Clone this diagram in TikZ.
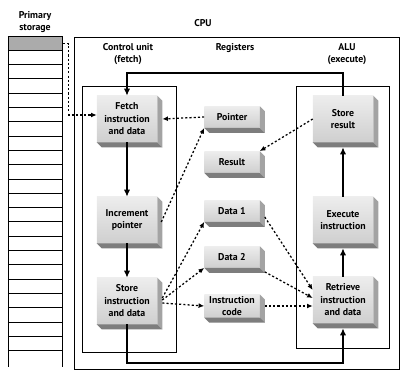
\documentclass[tikz,border=0pt]{standalone}
\usepackage{fontspec}
\setmainfont{PT Sans}
\usetikzlibrary{arrows.meta,calc}
\definecolor{FaceLight}{HTML}{EDEDED}
\definecolor{Face}{HTML}{CFCFCF}
\definecolor{Side}{HTML}{A3A3A3}
\definecolor{Base}{HTML}{7D7D7D}
\definecolor{Slot}{HTML}{ABABAB}

\begin{document}
\begin{tikzpicture}[x=0.025cm,y=-0.025cm,
  font=\fontsize{7}{8.9}\selectfont\bfseries,
  unit/.style={top color=FaceLight,bottom color=Face,minimum width=1.5cm,
    minimum height=1.15cm,align=center,inner sep=1pt},
  reg/.style={unit,minimum width=1.375cm,minimum height=0.53cm},
  frame/.style={draw,line width=0.7pt},
  flow/.style={-{Latex[length=5pt,width=4.5pt]},line width=1.6pt},
  data/.style={-{Latex[length=4pt,width=3.5pt]},line width=0.9pt,
    dash pattern=on 1.5pt off 1.5pt}]
  \useasboundingbox (0,0) rectangle (404,377);

  % primary storage
  \foreach \k in {0,...,22}
    \draw[line width=0.6pt] (8,{36+14.3*\k}) -- (62,{36+14.3*\k});
  \draw[line width=0.6pt] (8,36) -- (8,367) (62,36) -- (62,367);
  \node[draw,line width=0.6pt,fill=Slot,minimum width=1.35cm,
    minimum height=0.3575cm,inner sep=0pt,anchor=north west] (slot) at (8,36) {};

  \draw[frame] (74,37) rectangle (399,369);
  \draw[frame] (82,86) rectangle (176,352);
  \draw[frame] (296,86) rectangle (389,348);

  \node[align=center] (prim) at (35,22) {Primary\\storage};
  \node (cpu) at (203,23) {CPU};
  \node[align=center] (ctl) at (128,54) {Control unit\\(fetch)};
  \node (regs) at (235,48) {Registers};
  \node[align=center] (alu) at (347,54) {ALU\\(execute)};

  \node[unit] (fetch) at (127,119) {Fetch\\instruction\\and data};
  \node[unit] (incr) at (127,220) {Increment\\pointer};
  \node[unit] (store) at (127,301) {Store\\instruction\\and data};
  \node[reg] (ptr) at (232,117) {Pointer};
  \node[reg] (res) at (232,162) {Result};
  \node[reg] (d1) at (232,211) {Data 1};
  \node[reg] (d2) at (232,257) {Data 2};
  \node[reg] (icode) at (232,306) {Instruction\\code};
  \node[unit] (sres) at (343,119) {Store\\result};
  \node[unit] (exec) at (343,220) {Execute\\instruction};
  \node[unit] (retr) at (343,300) {Retrieve\\instruction\\and data};

  \foreach \n in {fetch,incr,store,ptr,res,d1,d2,icode,sres,exec,retr} {
    \fill[Side] (\n.north east) -- ++(5,5) -- ($(\n.south east)+(5,5)$)
      -- (\n.south east) -- cycle;
    \fill[Base] (\n.south west) -- ++(5,5) -- ($(\n.south east)+(5,5)$)
      -- (\n.south east) -- cycle;
  }

  \coordinate (looptop) at (127,73);
  \coordinate (loopbot) at (127,363);
  \draw[flow] (sres.north) |- (looptop) -- (fetch.north);
  \draw[flow] (fetch.south) -- (incr.north);
  \draw[flow] (incr.south) -- (store.north);
  \draw[flow] (store.south) -- (loopbot) -| ($(retr.south)+(0,5)$);
  \draw[flow] (retr.north) -- ($(exec.south)+(0,5)$);
  \draw[flow] (exec.north) -- ($(sres.south)+(0,5)$);

  \draw[data] (slot.east) -- ++(6,0) |- ($(fetch.west)+(0,-4)$);
  \draw[data] (ptr.west) -- ($(fetch.east)+(5,0)$);
  \draw[data] ($(incr.east)+(4,2)$) -- (ptr.south west);
  \draw[data] (sres.west) -- (res.north east);
  \draw[data] ($(store.east)+(5,-3)$) -- (d1.south west);
  \draw[data] ($(store.east)+(5,-1)$) -- (d2.south west);
  \draw[data] ($(store.east)+(5,2)$) -- (icode.west);
  \draw[data] ($(d1.east)+(5,6)$) -- ($(retr.west)+(0,-10)$);
  \draw[data] ($(d2.south east)+(5,4)$) -- ($(retr.west)+(0,-2)$);
  \draw[data] ($(icode.east)+(5,0)$) -- ($(retr.west)+(0,6)$);
\end{tikzpicture}
\end{document}
